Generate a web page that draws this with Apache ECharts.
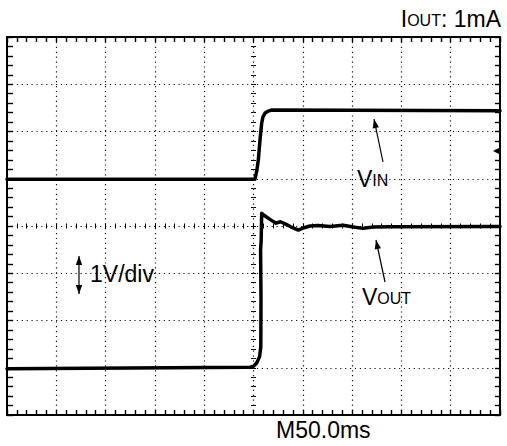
<!DOCTYPE html>
<html><head><meta charset="utf-8">
<script src="https://cdn.jsdelivr.net/npm/echarts@6/dist/echarts.min.js"></script>
<style>html,body{margin:0;padding:0;background:#fff}#c{width:507px;height:446px}</style>
</head><body><div id="c"></div>
<script>
// Time in ms relative to the trigger (50 ms/div), level in divisions (1 V/div) from the centre line
const vinTimeMs = [-250, -150, -50, 1.5, 3.5, 4.9, 6.6, 8.3, 9.6, 11.7, 14.7, 18.8, 100, 250];
const vinDiv    = [0.99, 0.99, 0.99, 0.99, 1.19, 1.40, 1.82, 2.18, 2.31, 2.39, 2.43, 2.455, 2.45, 2.44];
const voutTimeMs = [-250, -85, -3.5, 0, 3.2, 6.1, 7.4, 7.6, 7.2, 7.8, 8.3, 11.7, 16.7, 22.8, 27.4, 33.7, 39, 45.4, 51.2, 57.3, 65.4, 77.6, 90.8, 103, 111, 121, 138, 250];
const voutDiv    = [-3.02, -3.0, -2.99, -2.97, -2.9, -2.77, -2.56, -1.57, -0.5, -0.3, 0.27, 0.21, 0.14, 0.06, 0.09, 0.03, -0.03, -0.085, -0.036, 0, 0.01, -0.01, 0.017, -0.028, -0.05, -0.02, -0.015, -0.01];
const xRange = [-250, 250];   // 10 divisions
const yRange = [-4, 4];       // 8 divisions
const xMajor = 50, xMinor = 10, yMajor = 1, yMinor = 0.2;

const FONT = '"Liberation Sans", Arial, sans-serif';
const chart = echarts.init(document.getElementById('c'), null, {renderer: 'svg'});

const noLabel = {show: false};
const dotted = {show: true, lineStyle: {color: '#111', width: 1.2, type: [1.2, 3.7]}};
function tickAxis(extra, isX) {
  const base = {
    type: 'value', min: isX ? xRange[0] : yRange[0], max: isX ? xRange[1] : yRange[1],
    interval: isX ? xMinor : yMinor, axisLabel: noLabel, splitLine: {show: false}
  };
  return Object.assign(base, extra);
}
const borderLine = {show: true, onZero: false, lineStyle: {color: '#000', width: 2}};
const borderTick = (len) => ({show: true, inside: true, length: len, lineStyle: {color: '#000', width: 1.4}});
const centreLine = (idx) => ({show: true, onZero: true, onZeroAxisIndex: idx, lineStyle: {opacity: 0}});
const centreTick = (inside) => ({show: true, inside: inside, length: 2.5, lineStyle: {color: '#000', width: 1}});

const pair = (a, b) => a.map((t, i) => [t, b[i]]);

function arrow(x1, y1, x2, y2, both) {
  const dx = x2 - x1, dy = y2 - y1, L = Math.hypot(dx, dy), ux = dx / L, uy = dy / L;
  const hl = 9, hw = 3.2;
  const head = (tx, ty, sx, sy) => ({
    type: 'polygon', z: 100,
    shape: {points: [[tx, ty], [tx - sx * hl - sy * hw, ty - sy * hl + sx * hw], [tx - sx * hl + sy * hw, ty - sy * hl - sx * hw]]},
    style: {fill: '#000'}
  });
  const els = [{type: 'line', z: 100, shape: {x1: x1, y1: y1, x2: x2, y2: y2}, style: {stroke: '#000', lineWidth: 1.2}}];
  els.push(head(x2, y2, ux, uy));
  if (both) els.push(head(x1, y1, -ux, -uy));
  return els;
}
const rich = {
  a: {fontSize: 23, fontFamily: FONT, verticalAlign: 'bottom', lineHeight: 24},
  b: {fontSize: 16, fontFamily: FONT, verticalAlign: 'bottom', lineHeight: 16, padding: [0, 0, 1.5, 0]}
};
function label(text, x, y, align) {
  return {type: 'text', z: 100, x: x, y: y, style: {text: text, rich: rich, fill: '#000', align: align || 'left', verticalAlign: 'bottom', font: '23px ' + FONT}};
}

chart.setOption({
  animation: false,
  backgroundColor: '#fff',
  grid: {left: 7, top: 37, width: 493, height: 378, containLabel: false, outerBoundsMode: 'none'},
  xAxis: [
    {type: 'value', min: xRange[0], max: xRange[1], interval: xMajor, position: 'bottom', axisLine: {show: false, onZero: false}, axisTick: {show: false}, axisLabel: noLabel, splitLine: dotted},
    tickAxis({position: 'bottom', axisLine: borderLine, axisTick: borderTick(5)}, true),
    tickAxis({position: 'top', axisLine: borderLine, axisTick: borderTick(5)}, true),
    tickAxis({position: 'bottom', axisLine: centreLine(0), axisTick: centreTick(true)}, true),
    tickAxis({position: 'bottom', axisLine: centreLine(0), axisTick: centreTick(false)}, true)
  ],
  yAxis: [
    {type: 'value', min: yRange[0], max: yRange[1], interval: yMajor, position: 'left', axisLine: {show: false, onZero: false}, axisTick: {show: false}, axisLabel: noLabel, splitLine: dotted},
    tickAxis({position: 'left', axisLine: borderLine, axisTick: borderTick(6)}, false),
    tickAxis({position: 'right', axisLine: borderLine, axisTick: borderTick(5)}, false),
    tickAxis({position: 'left', axisLine: centreLine(0), axisTick: centreTick(true)}, false),
    tickAxis({position: 'left', axisLine: centreLine(0), axisTick: centreTick(false)}, false)
  ],
  series: [
    {name: 'VIN', type: 'line', xAxisIndex: 0, yAxisIndex: 0, data: pair(vinTimeMs, vinDiv), showSymbol: false, symbol: 'none', lineStyle: {color: '#000', width: 3.5, join: 'round', cap: 'round'}, z: 10},
    {name: 'VOUT', type: 'line', xAxisIndex: 0, yAxisIndex: 0, data: pair(voutTimeMs, voutDiv), showSymbol: false, symbol: 'none', lineStyle: {color: '#000', width: 3.5, join: 'round', cap: 'round'}, z: 10}
  ],
  graphic: [].concat(
    [label('{a|I}{b|OUT}{a|: 1mA}', 501, 30, 'right')],
    [label('{a|M50.0ms}', 276, 441, 'left')],
    [label('{a|1V/div}', 90, 285, 'left')],
    [label('{a|V}{b|IN}', 357, 190, 'left')],
    [label('{a|V}{b|OUT}', 362, 308, 'left')],
    arrow(383, 162, 374, 119, false),
    arrow(385, 282, 376, 240, false),
    arrow(79, 294, 79, 256, true),
    [{type: 'polygon', z: 100, shape: {points: [[493, 151], [499, 148], [499, 154]]}, style: {fill: '#000'}}]
  )
});
</script></body></html>
